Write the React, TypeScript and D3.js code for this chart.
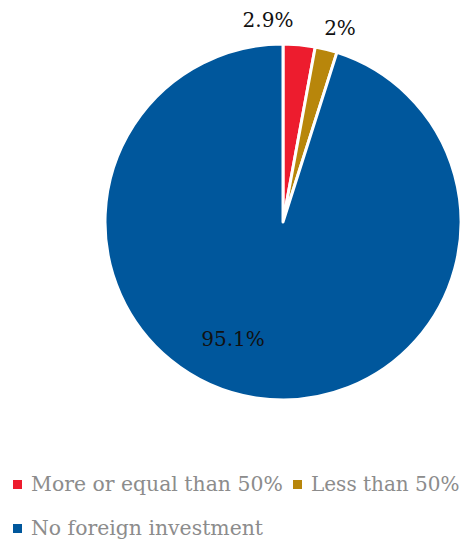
import React from "react";
import * as d3 from "d3";

const categories = ["More or equal than 50%", "Less than 50%", "No foreign investment"];
const values = [2.9, 2, 95.1];
const labels = ["2.9%", "2%", "95.1%"];
const colors = ["#ED1C2E", "#B8860B", "#00579C"];

export default function App() {
  const W = 463, H = 544;
  const cx = 283, cy = 222, r = 178;
  const pie = d3.pie<number>().sort(null).value((d) => d)(values);
  const arc = d3.arc<d3.PieArcDatum<number>>().innerRadius(0).outerRadius(r);
  const labelPos: [number, number][] = [
    [268, 27],
    [340, 35],
    [233, 346],
  ];
  const font = "DejaVu Serif";
  return (
    <svg width={W} height={H} style={{ position: "absolute", left: 0, top: 0, fontFamily: font }}>
      <g transform={`translate(${cx},${cy})`}>
        {pie.map((p, i) => (
          <path key={i} d={arc(p) || ""} fill={colors[i]} stroke="#fff" strokeWidth={3} strokeLinejoin="round" />
        ))}
      </g>
      {labels.map((l, i) => (
        <text key={i} x={labelPos[i][0]} y={labelPos[i][1]} fontSize={20} textAnchor="middle" fill="#111" style={{ fontFamily: font }}>
          {l}
        </text>
      ))}
      {[
        { x: 13, y: 491 },
        { x: 293, y: 491 },
        { x: 13, y: 535 },
      ].map((pos, i) => (
        <g key={i}>
          <rect x={pos.x} y={pos.y - 11} width={9} height={9} fill={colors[i]} />
          <text x={pos.x + 18} y={pos.y} fontSize={i === 1 ? 20 : 20.4} fill="#8C8C8C" style={{ fontFamily: font }}>
            {categories[i]}
          </text>
        </g>
      ))}
    </svg>
  );
}
